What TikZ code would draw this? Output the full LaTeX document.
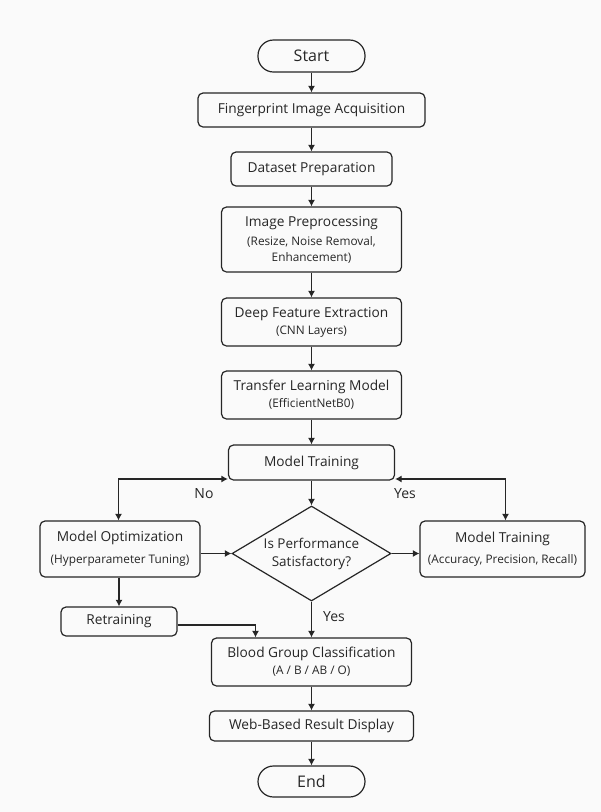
\documentclass[tikz,border=0pt]{standalone}
\usepackage{fontspec}
\setmainfont{Open Sans}
\usetikzlibrary{shapes.geometric,arrows.meta}
\definecolor{ink}{HTML}{262626}
\definecolor{bg}{HTML}{FAFAFA}
\newcommand\subtxt{\fontsize{11.8}{14}\selectfont}
\tikzset{
  box/.style={draw=ink, line width=1.2pt, rounded corners=5pt, fill=bg, text=ink, align=center, inner sep=0pt, font=\fontsize{13.7}{16}\selectfont},
  term/.style={draw=ink, line width=1.2pt, rounded corners=15.5pt, fill=bg, text=ink, inner sep=0pt, font=\fontsize{16}{18}\selectfont},
  dec/.style={draw=ink, line width=1.2pt, diamond, fill=bg, text=ink, align=center, inner sep=0pt, font=\fontsize{13.5}{18}\selectfont},
  arr/.style={draw=ink, line width=1.2pt, -{Latex[length=6.5pt,width=7pt]}},
  darr/.style={draw=ink, line width=1.2pt, {Latex[length=6.5pt,width=7pt]}-{Latex[length=6.5pt,width=7pt]}},
  lbl/.style={text=ink, font=\fontsize{14}{16}\selectfont}
}
\begin{document}
\begin{tikzpicture}[x=1pt,y=-1pt]
\fill[bg] (0,0) rectangle (601,812);
\useasboundingbox (0,0) rectangle (601,812);

\node[term, minimum width=107pt, minimum height=32pt] (start) at (311.5,56) {Start};
\node[box, minimum width=227pt, minimum height=34pt] (acq) at (311.5,110) {Fingerprint Image Acquisition};
\node[box, minimum width=161pt, minimum height=34pt] (data) at (311.5,169) {Dataset Preparation};
\node[box, minimum width=180pt, minimum height=65pt] (pre) at (311.5,239.5) {Image Preprocessing\\[3pt]\subtxt(Resize, Noise Removal,\\\subtxt Enhancement)};
\node[box, minimum width=180pt, minimum height=48pt] (feat) at (311.5,322) {Deep Feature Extraction\\[1pt]\subtxt(CNN Layers)};
\node[box, minimum width=180pt, minimum height=48pt] (tl) at (311.5,395) {Transfer Learning Model\\[1pt]\subtxt(EfficientNetB0)};
\node[box, minimum width=166pt, minimum height=35pt] (train) at (311.5,462.5) {Model Training};
\node[dec, minimum width=159pt, minimum height=95pt, aspect=1.67] (perf) at (311.5,553.5) {Is Performance\\Satisfactory?};
\node[box, minimum width=160pt, minimum height=56pt] (opt) at (120,549) {Model Optimization\\[6pt]\subtxt(Hyperparameter Tuning)};
\node[box, minimum width=165pt, minimum height=56pt] (eval) at (502.5,549) {Model Training\\[5pt]\subtxt(Accuracy, Precision, Recall)};
\node[box, minimum width=116pt, minimum height=29pt] (retr) at (119,621.5) {Retraining};
\node[box, minimum width=200pt, minimum height=48pt] (blood) at (311.5,662) {Blood Group Classification\\[1pt]\subtxt(A / B / AB / O)};
\node[box, minimum width=204pt, minimum height=30pt] (web) at (311.5,726) {Web-Based Result Display};
\node[term, minimum width=107pt, minimum height=31pt] (end) at (311.5,781.5) {End};

\draw[arr] (start) -- (acq);
\draw[arr] (acq) -- (data);
\draw[arr] (data) -- (pre);
\draw[arr] (pre) -- (feat);
\draw[arr] (feat) -- (tl);
\draw[arr] (tl) -- (train);
\draw[arr] (train.south -| perf.north) -- (perf.north);

\coordinate (lc) at (118.5,479);
\coordinate (rc) at (505.5,479);
\draw[darr] (opt.north -| lc) -- (lc) -- (lc -| train.west);
\draw[darr] (eval.north -| rc) -- (rc) -- (rc -| train.east);
\node[lbl] (no) at (204,494) {No};
\node[lbl] (yes1) at (405,494) {Yes};

\draw[arr] (opt.east |- perf.west) -- (perf.west);
\draw[arr] (perf.east) -- (eval.west |- perf.east);
\draw[arr] (opt.south -| retr.north) -- (retr.north);
\coordinate (rb) at (255.5,625);
\draw[arr] (retr.east |- rb) -- (rb) -- (rb |- blood.north);
\draw[arr] (perf.south) -- (perf.south |- blood.north);
\node[lbl] (yes2) at (334,617) {Yes};

\draw[arr] (blood) -- (web);
\draw[arr] (web) -- (end);
\end{tikzpicture}
\end{document}
